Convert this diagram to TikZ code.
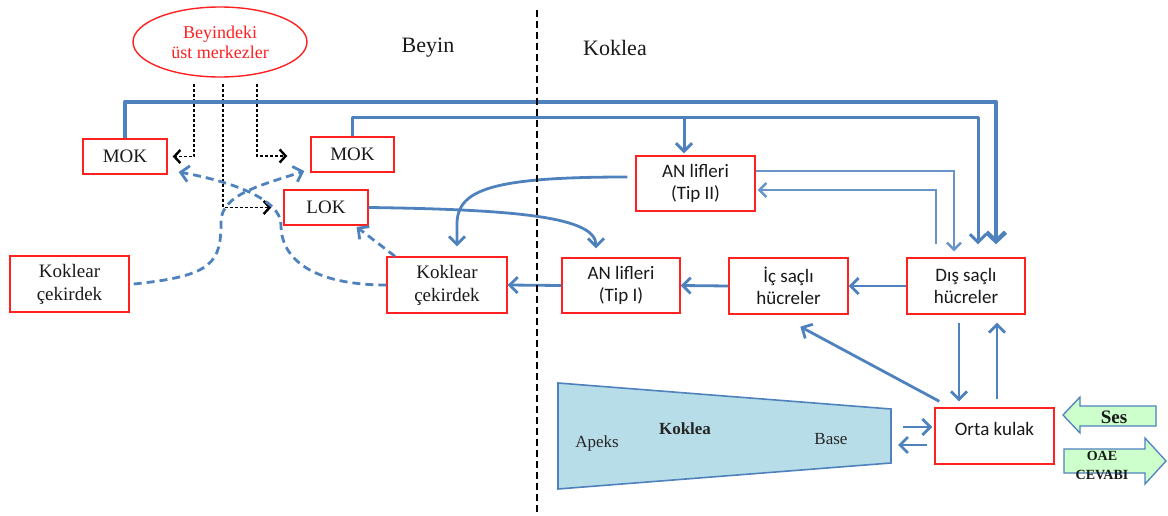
\documentclass[tikz,border=0pt]{standalone}
\usepackage{fontspec}
\setmainfont{Liberation Serif}
\newfontfamily\calfont{Carlito}
\usetikzlibrary{arrows.meta,shapes.geometric}
\definecolor{bl}{HTML}{4F81BD}
\definecolor{rd}{HTML}{FF2020}
\definecolor{cochfill}{HTML}{B7DDE8}
\definecolor{grfill}{HTML}{CCFFCC}
\tikzset{
  rbox/.style={draw=rd, line width=1.4pt, fill=white, align=center, inner sep=0pt},
  sf/.style={font=\calfont\fontsize{19}{22}\selectfont, text=black!90},
  rm/.style={font=\fontsize{19}{23}\selectfont, text=black!90},
  conn/.style={draw=bl, line width=2.8pt, line join=round, -{Straight Barb[length=8pt,width=16pt]}},
  thickconn/.style={draw=bl, line width=4.5pt, line join=round, -{Straight Barb[length=9pt,width=19pt]}},
  medconn/.style={draw=bl, line width=3pt, line join=round, -{Straight Barb[length=8pt,width=16pt]}},
  thinconn/.style={draw=bl!85, line width=1.5pt, -{Straight Barb[length=7pt,width=14pt,line width=2.4pt]}},
  bdash/.style={draw=bl, line width=2.8pt, dash pattern=on 8pt off 5pt, -{Straight Barb[length=8pt,width=16pt]}},
  kdash/.style={draw=black, line width=1.3pt, dash pattern=on 3pt off 2pt, -{Straight Barb[length=6pt,width=13pt,line width=2.4pt]}},
  arrshape/.style={draw=bl, line width=1.3pt, fill=grfill, line join=miter},
  heading/.style={font=\fontsize{22}{26}\selectfont, text=black!90},
  cochtext/.style={font=\fontsize{17}{20}\selectfont, text=black!85},
}
\begin{document}
\begin{tikzpicture}[x=1pt,y=-1pt]
\useasboundingbox (0,0) rectangle (1168,516);

% ---- nodes ----
\node[ellipse, draw=rd, line width=1.4pt, minimum width=174pt, minimum height=70pt,
      text=rd, align=center, inner sep=0pt, font=\fontsize{18}{20}\selectfont] (ust) at (220,42) {Beyindeki\\üst merkezler};
\node[heading] (beyin) at (428,48) {Beyin};
\node[heading] (koklea) at (615,48) {Koklea};

\node[rbox, rm, minimum width=84pt, minimum height=35pt] (mokL) at (125,156.5) {MOK};
\node[rbox, rm, minimum width=83pt, minimum height=35pt] (mokR) at (352.5,154.5) {MOK};
\node[rbox, rm, minimum width=84pt, minimum height=35pt] (lok) at (326,207.5) {LOK};
\node[rbox, rm, minimum width=119pt, minimum height=56pt] (kcL) at (69.5,284) {Koklear\\çekirdek};
\node[rbox, rm, minimum width=120pt, minimum height=56pt] (kcR) at (447,285) {Koklear\\çekirdek};
\node[rbox, sf, minimum width=118pt, minimum height=55pt] (an1) at (621,285.5) {AN lifleri\\(Tip I)};
\node[rbox, sf, minimum width=119pt, minimum height=56pt] (ic) at (788.5,286) {İç saçlı\\hücreler};
\node[rbox, sf, minimum width=118pt, minimum height=56pt] (dis) at (966,286) {Dış saçlı\\hücreler};
\node[rbox, sf, minimum width=119pt, minimum height=55pt] (an2) at (695.5,183.5) {AN lifleri\\(Tip II)};
\node[draw=rd, line width=1.4pt, fill=white, inner sep=0pt, sf, minimum width=119pt, minimum height=56pt,
      text height=13pt, text depth=14pt] (orta) at (994.5,436) {Orta kulak};

% ---- cochlea ----
\coordinate (tA) at (558,383);
\coordinate (tB) at (891,409);
\coordinate (tC) at (891,463);
\coordinate (tD) at (558,489);
\coordinate (cochR) at (891,436);
\draw[draw=bl, line width=1.6pt, fill=cochfill] (tA) -- (tB) -- (tC) -- (tD) -- cycle;
\node[cochtext] (apeks) at (597,443) {Apeks};
\node[cochtext, font=\bfseries\fontsize{17}{20}\selectfont] (kokl) at (685,429) {Koklea};
\node[cochtext] (base) at (831,439) {Base};

% ---- Ses / OAE arrows ----
\draw[arrshape] (1063,415) -- (1080,397) -- (1080,406) -- (1156,406) -- (1156,426) -- (1080,426) -- (1080,433) -- cycle;
\node[font=\bfseries\fontsize{19}{22}\selectfont, text=black!90] (ses) at (1114,417) {Ses};
\draw[arrshape] (1064,449) -- (1145,449) -- (1145,438) -- (1166,461) -- (1145,484) -- (1145,473) -- (1064,473) -- cycle;
\node[font=\bfseries\fontsize{14}{19}\selectfont, text=black!90, align=center] (oae) at (1102,465) {OAE\\CEVABI};

% ---- black dashed from upper centres ----
\coordinate (d1) at (194,84);
\coordinate (d2) at (223,84);
\coordinate (d3) at (257,84);
\draw[kdash] (d1) |- ([xshift=5pt]mokL.east);
\draw[kdash] (d3) |- ([xshift=-23pt,yshift=-1.5pt]mokR.west);
\draw[kdash] (d2) |- ([xshift=-12pt]lok.west);

% ---- long top lines ----
\coordinate (topA) at (0,102);
\coordinate (topB) at (0,118);
\draw[thickconn, shorten >=13pt] (mokL.north) -- (mokL.north |- topA) -| ([xshift=30pt]dis.north);
\draw[medconn, shorten >=13pt] (mokR.north) -- (mokR.north |- topB) -| ([xshift=12pt]dis.north);
\draw[medconn, shorten >=2pt] ([xshift=-11.5pt]an2.north |- topB) -- ([xshift=-11.5pt]an2.north);

% ---- thin lines AN Tip II <-> Dis ----
\draw[thinconn, shorten >=6pt] ([yshift=12.5pt]an2.east) -| ([xshift=-12pt]dis.north);
\draw[thinconn, shorten <=13pt, shorten >=2pt] ([xshift=-30pt]dis.north) |- ([yshift=-6.5pt]an2.east);

% ---- horizontal chain ----
\draw[conn] (dis.west) -- (ic.east);
\draw[conn] (ic.west) -- (an1.east);
\draw[conn] (an1.west) -- (kcR.east);

% ---- curved solid ----
\draw[conn, shorten >=9pt] (lok.east) .. controls +(150,2) and +(0,-40) .. ([xshift=-25pt]an1.north);
\draw[conn, shorten >=10pt] ([xshift=-8pt,yshift=6.5pt]an2.west) .. controls +(-135,0) and +(0,-35) .. ([xshift=10pt,yshift=32pt]kcR.north) -- ([xshift=10pt]kcR.north);

% ---- dashed blue curves ----
\draw[bdash] ([xshift=4pt]kcL.east) .. controls +(80,-8) and +(0,40) .. (221,222) .. controls +(0,-28) and +(-42,14) .. ([xshift=-6pt,yshift=-16.5pt]mokR.west);
\draw[bdash] (kcR.west) .. controls +(-72,0) and +(0,35) .. (281,225) .. controls +(0,-28) and +(45,8) .. ([xshift=11pt,yshift=-15.5pt]mokL.east);
\draw[bdash, shorten >=2pt] ([xshift=-52pt]kcR.north) -- ([xshift=29pt]lok.south);

% ---- middle ear ----
\draw[conn, shorten <=8pt, shorten >=6pt] ([xshift=-7pt]dis.south) -- ([xshift=-7pt]dis.south |- orta.north);
\draw[conn, shorten <=8pt, shorten >=8pt] ([xshift=31pt]dis.south |- orta.north) -- ([xshift=31pt]dis.south);
\draw[conn, shorten >=2pt] ([xshift=5pt,yshift=6pt]orta.north west) -- ([xshift=10pt,yshift=-11pt]ic.south);
\draw[conn] ([xshift=12pt,yshift=9pt]cochR) -- ([xshift=-2pt,yshift=9pt]orta.west);
\draw[conn] ([xshift=-7pt,yshift=-9pt]orta.west) -- ([xshift=7pt,yshift=-9pt]cochR);

% ---- separator ----
\coordinate (sepT) at (537,10);
\coordinate (sepB) at (537,514);
\draw[line width=2.8pt, dash pattern=on 7pt off 4pt] (sepT) -- (sepB);
\end{tikzpicture}
\end{document}
